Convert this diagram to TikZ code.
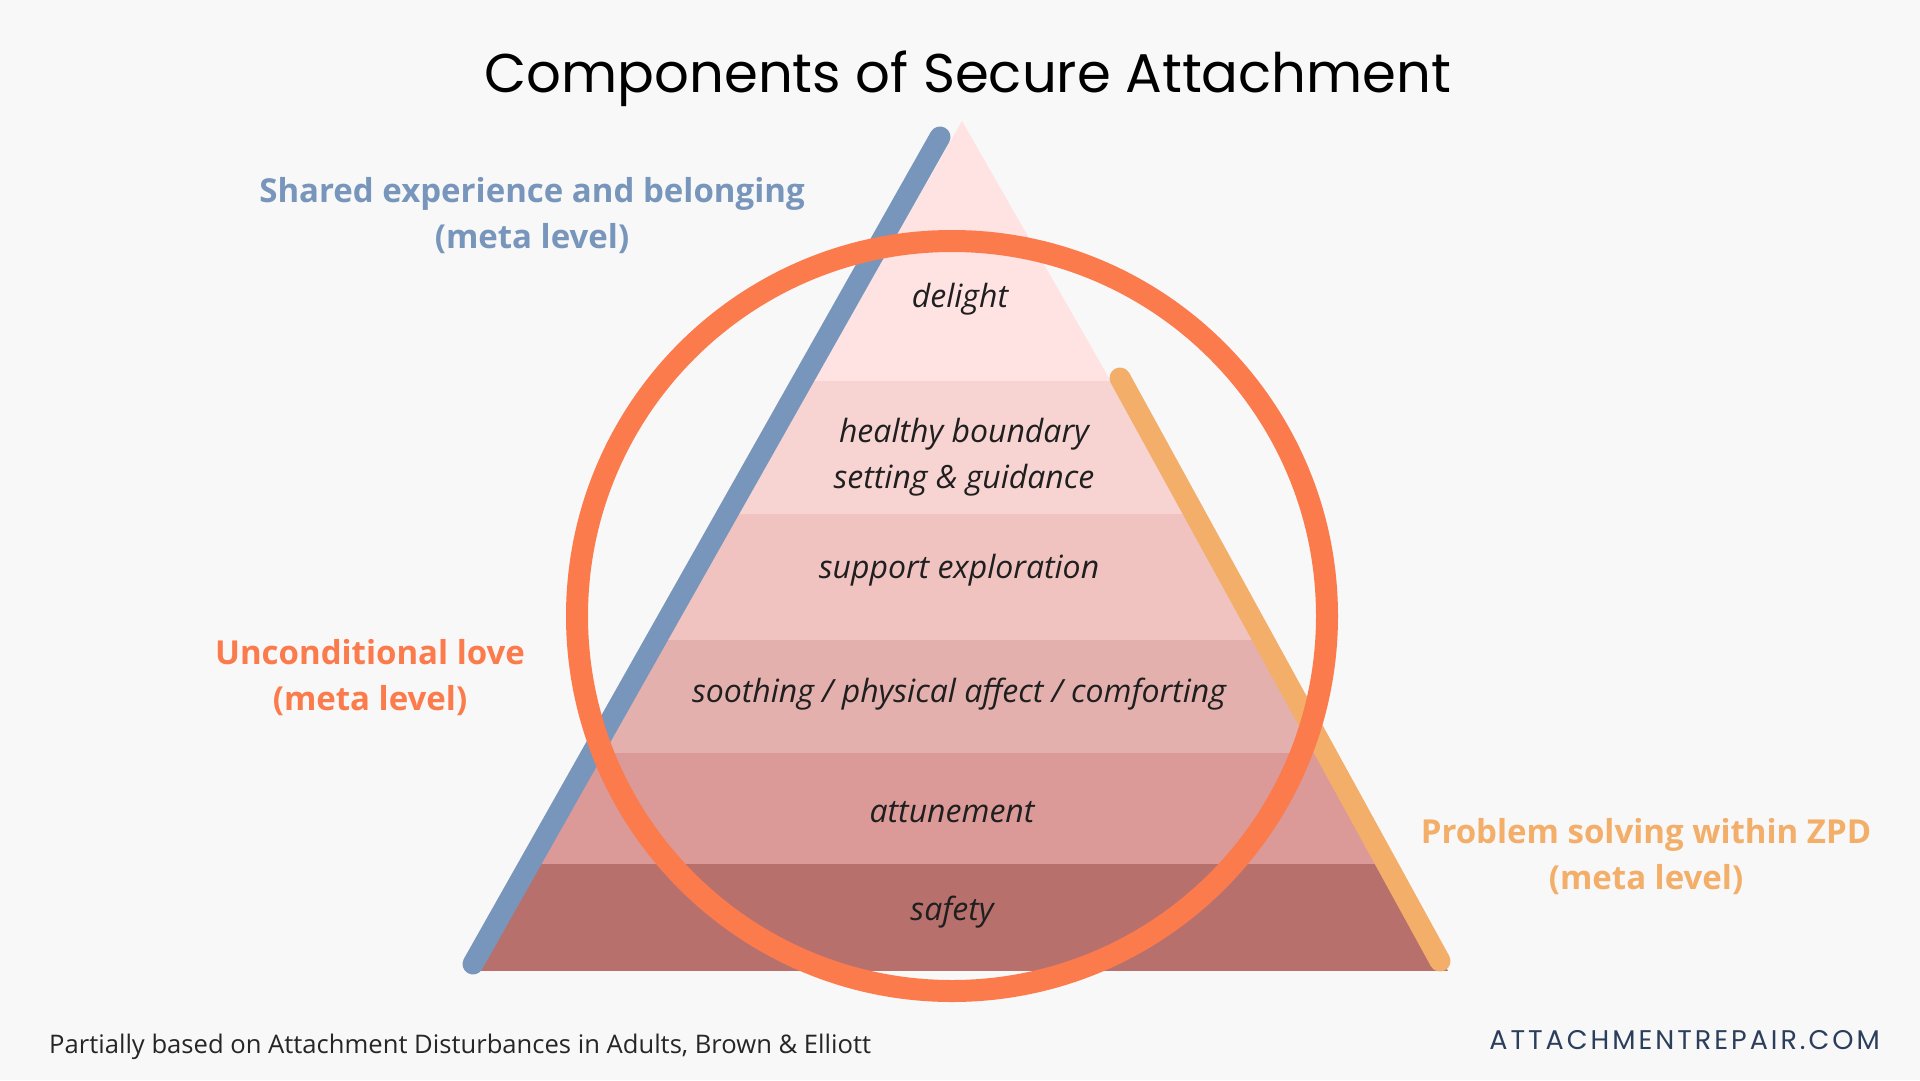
\documentclass[tikz,border=0pt]{standalone}
\usepackage{fontspec}
\setmainfont{Open Sans}
\newfontfamily\titlefont{Poppins}
\newfontfamily\sitefont[LetterSpace=11]{Poppins}
\usetikzlibrary{calc}

\definecolor{bgcol}{HTML}{F8F8F8}
\definecolor{sharedcol}{HTML}{7896BB}
\definecolor{lovecol}{HTML}{FB7B4C}
\definecolor{zpdcol}{HTML}{F3AE6A}
\definecolor{bandA}{HTML}{FFE2E2}
\definecolor{bandB}{HTML}{F7D4D2}
\definecolor{bandC}{HTML}{F0C3C0}
\definecolor{bandD}{HTML}{E3B0AD}
\definecolor{bandE}{HTML}{DB9A98}
\definecolor{bandF}{HTML}{B8706D}
\definecolor{sitecol}{HTML}{2B3F5C}

\begin{document}
\begin{tikzpicture}[x=1pt, y=-1pt, every node/.style={inner sep=0pt},
    band/.style={font=\fontsize{32}{46}\selectfont\itshape, text=black!88, align=center, anchor=base},
    meta/.style={font=\fontsize{33}{46}\selectfont\bfseries, align=center, anchor=base},
    bar/.style={line width=21pt, line cap=round}]
  % canvas
  \fill[bgcol] (0,0) rectangle (1920,1080);
  \useasboundingbox (0,0) rectangle (1920,1080);
  \coordinate (apex) at (962,121);
  \coordinate (bl) at (478,971);
  \coordinate (br) at (1448,971);
  % pyramid, cut into bands
  \begin{scope}
    \clip (apex) -- (br) -- (bl) -- cycle;
    \foreach \ya/\yb/\col in {121/381/bandA, 381/514/bandB, 514/640/bandC,
                              640/753/bandD, 753/864/bandE, 864/971/bandF}
      \fill[\col] (470,\ya) rectangle (1460,\yb);
  \end{scope}
  % meta level bars and ring
  \coordinate (shared-a) at (940,137);
  \coordinate (shared-b) at (473,964);
  \coordinate (zpd-a) at (1120,378);
  \coordinate (zpd-b) at (1440,961);
  \draw[bar, sharedcol] (shared-a) -- (shared-b);
  \draw[bar, zpdcol] (zpd-a) -- (zpd-b);
  \draw[lovecol, line width=22pt] (952,616) circle (375);
  % band labels (base = last line)
  \foreach \x/\y/\name/\txt in {960/307/delight/delight, 964/488/bound/{healthy boundary\\setting \& guidance},
                                959/578/explore/support exploration, 959/702/sooth/{soothing / physical affect / comforting},
                                952/822/attune/attunement, 952/920/safety/safety}
    \node[band] (lbl-\name) at (\x,\y) {\txt};
  % title
  \node[font=\titlefont\fontsize{54.5}{66}\selectfont, anchor=base] (title) at (968,92)
       {Components of Secure Attachment};
  % meta labels
  \node[meta, text=sharedcol] (lbl-shared) at (532,248) {Shared experience and belonging\\(meta level)};
  \node[meta, text=lovecol] (lbl-love) at (370,710) {Unconditional love\\(meta level)};
  \node[meta, text=zpdcol] (lbl-zpd) at (1646,889) {Problem solving within ZPD\\(meta level)};
  % footer
  \node[anchor=base west, font=\fontsize{25.6}{30}\selectfont, text=black!85] (source) at (49,1053)
       {Partially based on Attachment Disturbances in Adults, Brown \& Elliott};
  \node[anchor=base east, font=\sitefont\fontsize{27}{30}\selectfont, text=sitecol] (site) at (1880,1049)
       {ATTACHMENTREPAIR.COM};
\end{tikzpicture}
\end{document}
